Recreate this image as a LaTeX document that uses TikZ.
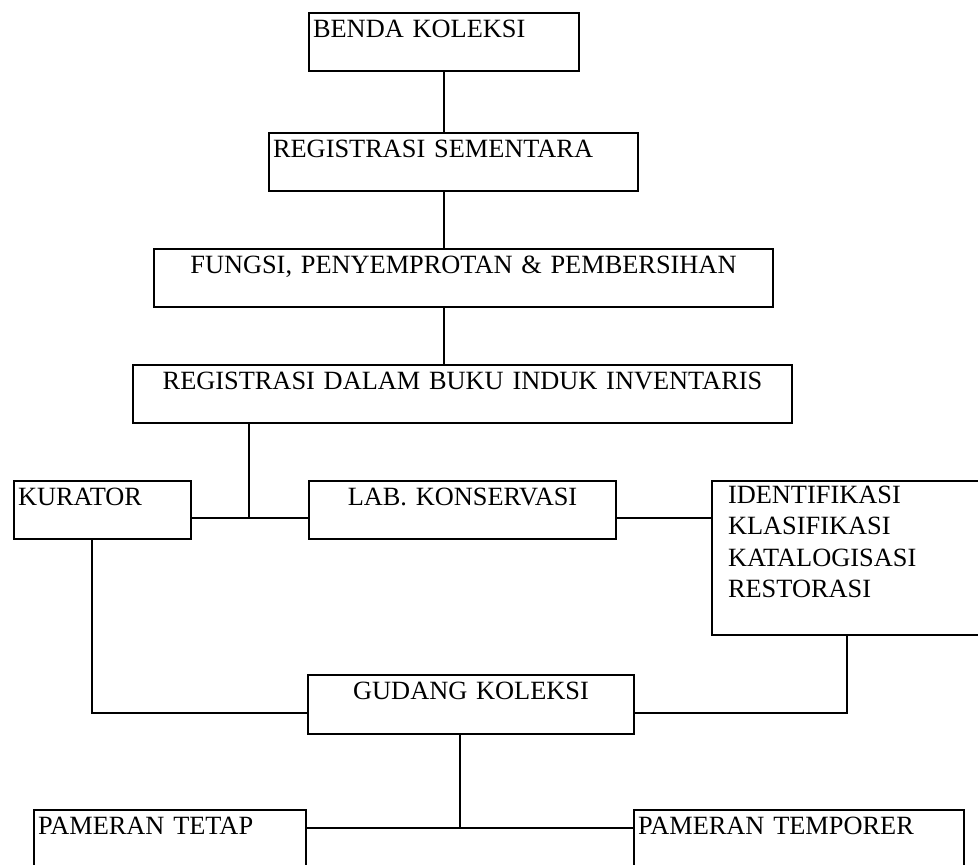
\documentclass[tikz,border=0pt]{standalone}
\usepackage{fontspec}
\setmainfont{Liberation Serif}
\usepackage{tikz}
\usetikzlibrary{positioning,calc}

\begin{document}
\begin{tikzpicture}[x=0.02cm, y=-0.02cm,
    box/.style={draw, line width=1.2pt, anchor=north west, inner xsep=0.08cm, inner ysep=0pt,
        text height=0.48cm, text depth=0.68cm, align=left,
        font=\fontsize{15pt}{18pt}\selectfont},
    mid/.style={align=center},
    link/.style={line width=1.2pt}]
    \useasboundingbox (0,0) rectangle (978,865);

    % Main chain
    \node[box, text width=5.24cm] (benda) at (308,12) {BENDA KOLEKSI};
    \node[box, text width=7.22cm] (regsem) at (268,132) {REGISTRASI SEMENTARA};
    \node[box, mid, text width=12.22cm] (fungsi) at (153,248) {FUNGSI, PENYEMPROTAN \& PEMBERSIHAN};
    \node[box, mid, text width=13.02cm] (regbuku) at (132,364) {REGISTRASI DALAM BUKU INDUK INVENTARIS};

    % Middle row
    \node[box, text width=3.38cm] (kurator) at (13,480) {KURATOR};
    \node[box, mid, text width=5.98cm] (lab) at (308,480) {LAB. KONSERVASI};
    \node[box, inner xsep=0.32cm, text width=4.94cm, text height=0.44cm, text depth=2.64cm] (ident) at (711,480)
        {IDENTIFIKASI\\KLASIFIKASI\\KATALOGISASI\\RESTORASI};

    % Storage and exhibitions
    \node[box, mid, text width=6.36cm, text depth=0.70cm] (gudang) at (307,674) {GUDANG KOLEKSI};
    \node[box, text width=5.28cm] (tetap) at (33,809) {PAMERAN TETAP};
    \node[box, text width=6.44cm] (temporer) at (633,809) {PAMERAN TEMPORER};

    % Junction points
    \coordinate (hub) at (249,518);
    \coordinate (gleft) at (92,713);
    \coordinate (gright) at (847,713);
    \coordinate (gsplit) at (460,828);

    % Connectors
    \draw[link] (benda.south) -- (benda.south |- regsem.north);
    \draw[link] (benda.south |- regsem.south) -- (benda.south |- fungsi.north);
    \draw[link] (benda.south |- fungsi.south) -- (benda.south |- regbuku.north);
    \draw[link] (regbuku.south -| hub) -- (hub);
    \draw[link] (kurator.east |- hub) -- (lab.west |- hub);
    \draw[link] (lab.east |- hub) -- (ident.west |- hub);
    \draw[link] (kurator.south -| gleft) -- (gleft) -- (gudang.west |- gleft);
    \draw[link] (ident.south -| gright) -- (gright) -- (gudang.east |- gright);
    \draw[link] (gudang.south -| gsplit) -- (gsplit);
    \draw[link] (tetap.east |- gsplit) -- (temporer.west |- gsplit);
\end{tikzpicture}
\end{document}
